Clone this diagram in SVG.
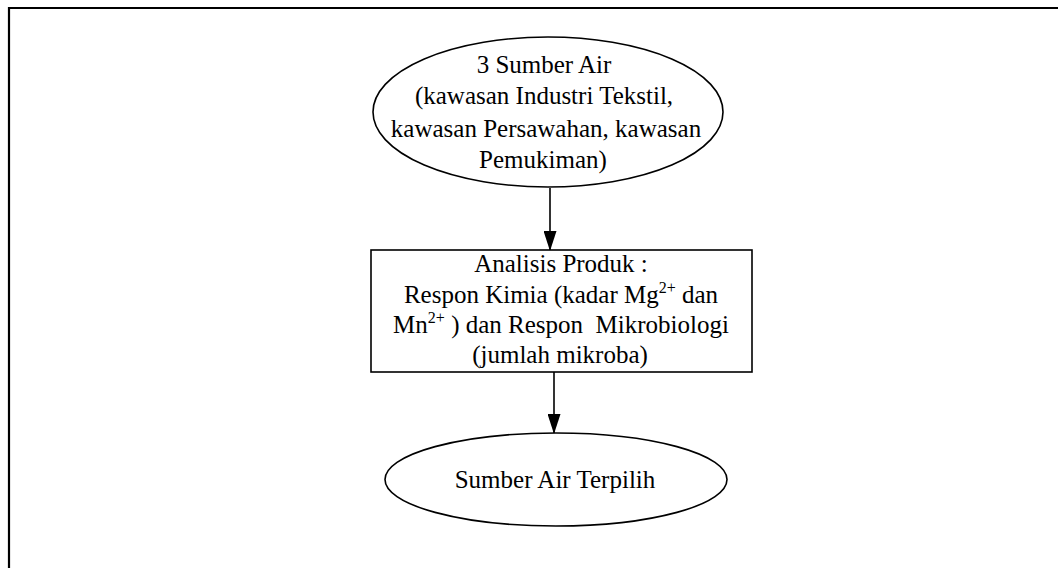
<svg xmlns="http://www.w3.org/2000/svg" width="1058" height="568" viewBox="0 0 1058 568">
<style>
.shape{fill:#fff;stroke:#000;stroke-width:1.6}
.t{font-family:'Liberation Serif','Times New Roman','DejaVu Serif',serif;font-size:25px;fill:#000;text-anchor:middle}
.sup{font-size:16px}
.conn{stroke:#000;stroke-width:1.6;fill:none}
</style>
<defs>
<marker id="arrow" markerWidth="20" markerHeight="13" refX="19" refY="6.5" orient="auto" markerUnits="userSpaceOnUse" viewBox="0 0 20 13">
<path d="M0,0 L20,6.5 L0,13 Z" fill="#000"/>
</marker>
</defs>
<rect width="1058" height="568" fill="#fff"/>
<path d="M9,568 V8 H1058" fill="none" stroke="#000" stroke-width="2.2"/>
<g id="connectors">
<line class="conn" x1="550" y1="188" x2="550" y2="250" marker-end="url(#arrow)"/>
<line class="conn" x1="554" y1="372" x2="554" y2="433" marker-end="url(#arrow)"/>
</g>
<g id="node-sumber">
<ellipse class="shape" cx="548" cy="112" rx="175" ry="75"/>
<text class="t" x="544" y="73" font-family="Liberation Serif, serif">3 Sumber Air</text>
<text class="t" x="544" y="104" font-family="Liberation Serif, serif">(kawasan Industri Tekstil,</text>
<text class="t" x="546" y="137" font-family="Liberation Serif, serif">kawasan Persawahan, kawasan</text>
<text class="t" x="543" y="168" font-family="Liberation Serif, serif">Pemukiman)</text>
</g>
<g id="node-analisis">
<rect class="shape" x="371" y="250" width="381" height="122"/>
<text class="t" x="561" y="272">Analisis Produk :</text>
<text class="t" x="561" y="303">Respon Kimia (kadar Mg<tspan class="sup" dy="-10">2+</tspan><tspan dy="10"> dan</tspan></text>
<text class="t" x="561" y="333" xml:space="preserve">Mn<tspan class="sup" dy="-10">2+</tspan><tspan dy="10"> ) dan Respon  Mikrobiologi</tspan></text>
<text class="t" x="560" y="363">(jumlah mikroba)</text>
</g>
<g id="node-terpilih">
<ellipse class="shape" cx="556" cy="479.5" rx="171" ry="46.5"/>
<text class="t" x="555" y="488">Sumber Air Terpilih</text>
</g>
</svg>
